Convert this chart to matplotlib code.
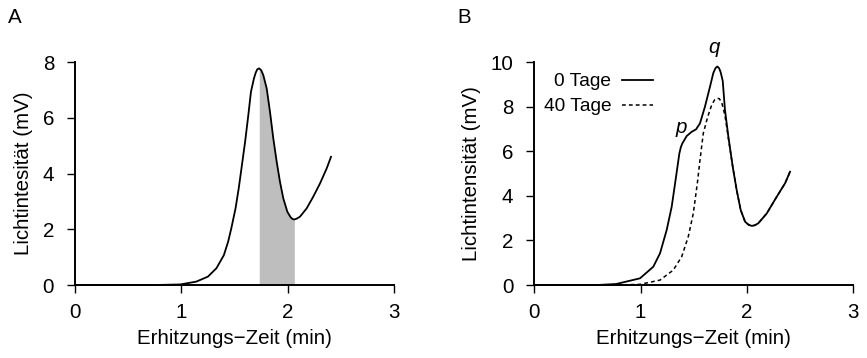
import matplotlib
matplotlib.use('Agg')
import matplotlib.pyplot as plt
import numpy as np

plt.rcParams['font.family'] = ['Liberation Sans', 'DejaVu Sans']

# Panel A: single heating curve
time_a = [0.0, 0.75, 0.99, 1.14, 1.25, 1.33, 1.40, 1.44, 1.47, 1.51, 1.54, 1.57,
          1.60, 1.63, 1.655, 1.683, 1.700, 1.715, 1.733, 1.752, 1.771, 1.803,
          1.834, 1.865, 1.897, 1.928, 1.959, 1.997, 2.028, 2.045, 2.063, 2.085,
          2.116, 2.179, 2.241, 2.304, 2.367, 2.408]
signal_a = [0.0, 0.0, 0.02, 0.12, 0.3, 0.6, 1.07, 1.55, 2.03, 2.75, 3.47, 4.3,
            5.14, 6.09, 6.93, 7.41, 7.62, 7.74, 7.77, 7.7, 7.53, 7.05,
            6.21, 5.26, 4.42, 3.7, 3.11, 2.63, 2.43, 2.37, 2.35, 2.38,
            2.45, 2.75, 3.17, 3.64, 4.18, 4.6]
shade_from, shade_to = 1.733, 2.063

# Panel B: fresh sample (0 Tage)
time_b0 = [0.0, 0.59, 0.77, 0.994, 1.119, 1.182, 1.245, 1.292, 1.333, 1.364,
           1.378, 1.392, 1.433, 1.48, 1.521, 1.558, 1.605, 1.652, 1.683, 1.703,
           1.721, 1.738, 1.752, 1.772, 1.793, 1.825, 1.866, 1.903, 1.941, 1.982,
           2.015, 2.045, 2.075, 2.107, 2.186, 2.28, 2.358, 2.405]
day0 = [0.0, 0.0, 0.045, 0.3, 0.82, 1.42, 2.47, 3.51, 4.86, 5.9,
        6.18, 6.35, 6.68, 6.87, 6.98, 7.25, 8.0, 8.89, 9.5, 9.72,
        9.8, 9.72, 9.55, 9.15, 7.85, 6.65, 5.3, 4.26, 3.36, 2.84,
        2.7, 2.65, 2.68, 2.77, 3.21, 3.96, 4.56, 5.08]
# Panel B: stored sample (40 Tage)
time_b40 = [0.0, 0.8, 0.994, 1.182, 1.307, 1.386, 1.448, 1.495, 1.533, 1.558,
            1.589, 1.631, 1.668, 1.695, 1.715, 1.738, 1.762, 1.793, 1.818,
            1.866, 1.903, 1.941, 1.982, 2.015, 2.045, 2.075, 2.107, 2.186,
            2.28, 2.358, 2.405]
day40 = [0.0, 0.0, 0.03, 0.22, 0.67, 1.27, 2.17, 3.21, 4.56, 5.6,
         6.8, 7.55, 8.07, 8.3, 8.37, 8.36, 8.2, 7.6, 6.8,
         5.3, 4.26, 3.36, 2.84, 2.7, 2.65, 2.68, 2.77, 3.21,
         3.96, 4.56, 5.08]
legend_labels = ['0 Tage', '40 Tage']

FS = 14.8


def style_axes(ax, ymax, ystep):
    ax.set_xlim(0, 3)
    ax.set_ylim(0, ymax)
    ax.set_xticks([0, 1, 2, 3])
    ax.set_yticks(np.arange(0, ymax + 0.1, ystep))
    for s in ['top', 'right']:
        ax.spines[s].set_visible(False)
    for s in ['left', 'bottom']:
        ax.spines[s].set_linewidth(1.4)
    ax.tick_params(length=6, width=1.0, labelsize=FS)
    ax.tick_params(axis='x', pad=7)
    ax.tick_params(axis='y', pad=9)
    ax.set_xlabel('Erhitzungs\u2212Zeit (min)', fontsize=FS, labelpad=5)


fig = plt.figure(figsize=(8.67, 3.58), dpi=100)
ax1 = fig.add_axes([0.0865, 0.2039, 0.3679, 0.6229])
ax2 = fig.add_axes([0.6163, 0.2039, 0.3679, 0.6229])

# A
ta = np.array(time_a)
sa = np.array(signal_a)
mask = (ta >= shade_from) & (ta <= shade_to)
ax1.fill_between(ta[mask], 0, sa[mask], color='#BEBEBE', lw=0)
ax1.plot(ta, sa, color='black', lw=1.3, clip_on=False)
style_axes(ax1, 8, 2)
ax1.set_ylabel('Lichtintesit\u00e4t (mV)', fontsize=FS, labelpad=7)
fig.text(0.009, 0.95, 'A', fontsize=FS, va='center', ha='left')

# B
ax2.plot(time_b0, day0, color='black', lw=1.3, label=legend_labels[0], clip_on=False)
ax2.plot(time_b40, day40, color='black', lw=1.1, ls=(0, (2.5, 2)),
         label=legend_labels[1], clip_on=False)
style_axes(ax2, 10, 2)
ax2.set_ylabel('Lichtintensit\u00e4t (mV)', fontsize=FS, labelpad=7)
ax2.text(1.378, 6.82, 'p', fontsize=FS, style='italic', ha='center', va='baseline')
ax2.text(1.69, 10.4, 'q', fontsize=FS, style='italic', ha='center', va='baseline')
ax2.legend(loc='center right', bbox_to_anchor=(0.372, 0.856), frameon=False,
           markerfirst=False, fontsize=13.8, handlelength=1.6, handletextpad=0.57,
           labelspacing=0.4, borderpad=0, borderaxespad=0)
fig.text(0.527, 0.95, 'B', fontsize=FS, va='center', ha='left')

fig.savefig('out.png', dpi=100)
